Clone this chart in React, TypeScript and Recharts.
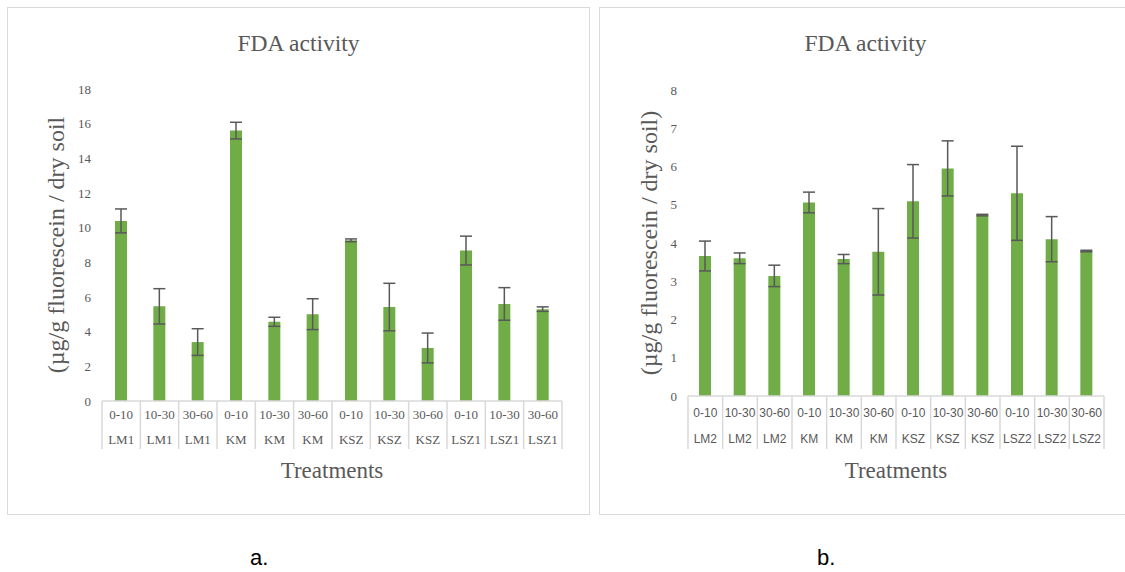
import React from "react";
import { BarChart, Bar, XAxis, YAxis, ErrorBar } from "recharts";

const depths = ["0-10", "10-30", "30-60", "0-10", "10-30", "30-60", "0-10", "10-30", "30-60", "0-10", "10-30", "30-60"];
const sitesA = ["LM1", "LM1", "LM1", "KM", "KM", "KM", "KSZ", "KSZ", "KSZ", "LSZ1", "LSZ1", "LSZ1"];
const sitesB = ["LM2", "LM2", "LM2", "KM", "KM", "KM", "KSZ", "KSZ", "KSZ", "LSZ2", "LSZ2", "LSZ2"];

const valuesA = [10.39, 5.46, 3.4, 15.6, 4.57, 5.01, 9.27, 5.42, 3.06, 8.68, 5.6, 5.3];
const errorsA = [0.69, 1.02, 0.77, 0.48, 0.26, 0.89, 0.08, 1.37, 0.86, 0.83, 0.94, 0.13];

const valuesB = [3.66, 3.6, 3.14, 5.06, 3.58, 3.77, 5.09, 5.95, 4.73, 5.3, 4.1, 3.79];
const errorsB = [0.39, 0.14, 0.28, 0.27, 0.12, 1.13, 0.96, 0.72, 0.02, 1.23, 0.59, 0.02];

const ticksA = [0, 2, 4, 6, 8, 10, 12, 14, 16, 18];
const ticksB = [0, 1, 2, 3, 4, 5, 6, 7, 8];

const SERIF = "'Liberation Serif', 'Times New Roman', serif";
const SANS = "'Liberation Sans', Arial, sans-serif";
const TEXT = "#595959";
const GRID = "#d9d9d9";
const GREEN = "#70ad47";

const makeData = (values: number[], errors: number[], sites: string[]) =>
  values.map((v, i) => ({ name: depths[i] + " " + sites[i], value: v, err: errors[i] }));

const dataA = makeData(valuesA, errorsA, sitesA);
const dataB = makeData(valuesB, errorsB, sitesB);

// two-row category labels with box separators, like Excel
const makeTick = (sites: string[], band: number, font: string, size: number, row1: number, row2: number, lineLen: number) =>
  (props: any) => {
    const { x, y, index } = props;
    const left = x - band / 2;
    const right = x + band / 2;
    return (
      <g>
        <line x1={left} y1={y} x2={left} y2={y + lineLen} stroke={GRID} strokeWidth={1.5} />
        {index === sites.length - 1 && (
          <line x1={right} y1={y} x2={right} y2={y + lineLen} stroke={GRID} strokeWidth={1.5} />
        )}
        <text x={x} y={y + row1} textAnchor="middle" dominantBaseline="middle" fontFamily={font} fontSize={size} fill={TEXT}>
          {depths[index]}
        </text>
        <text x={x} y={y + row2} textAnchor="middle" dominantBaseline="middle" fontFamily={font} fontSize={size} fill={TEXT}>
          {sites[index]}
        </text>
      </g>
    );
  };

const titleStyle: React.CSSProperties = {
  position: "absolute",
  top: 24,
  left: 0,
  width: "100%",
  textAlign: "center",
  fontFamily: SERIF,
  fontSize: 23.5,
  lineHeight: "23px",
  color: TEXT,
};

const App: React.FC = () => {
  return (
    <div style={{ position: "absolute", left: 0, top: 0, width: 1125, height: 572, overflow: "hidden", background: "#fff" }}>
      {/* panel a */}
      <div style={{ position: "absolute", left: 7, top: 7, width: 581, height: 506, border: `1.5px solid ${GRID}` }}>
        <div style={titleStyle}>FDA activity</div>
        <div style={{ position: "absolute", left: 0, top: 0 }}>
          <BarChart width={583} height={508} data={dataA} margin={{ top: 81, right: 29, left: 14, bottom: 25 }}>
            <YAxis
              width={80}
              domain={[0, 18]}
              ticks={ticksA}
              axisLine={false}
              tickLine={false}
              tickSize={0}
              tickMargin={11}
              tick={{ fontFamily: SERIF, fontSize: 13, fill: TEXT }}
              label={{
                value: "(µg/g fluorescein / dry soil",
                angle: -90,
                position: "insideLeft",
                offset: 33,
                style: { textAnchor: "middle", fontFamily: SERIF, fontSize: 24, fill: TEXT },
              }}
            />
            <XAxis
              dataKey="name"
              height={90}
              interval={0}
              axisLine={{ stroke: GRID, strokeWidth: 1.5 }}
              tickLine={false}
              tickSize={0}
              tickMargin={0}
              tick={makeTick(sitesA, 460 / 12, SERIF, 13, 15, 40, 48)}
              label={{
                value: "Treatments",
                position: "insideTop",
                offset: 61,
                style: { fontFamily: SERIF, fontSize: 23, fill: TEXT },
              }}
            />
            <Bar dataKey="value" fill={GREEN} barSize={12} isAnimationActive={false}>
              <ErrorBar dataKey="err" width={6} stroke={TEXT} strokeWidth={1.5} />
            </Bar>
          </BarChart>
        </div>
      </div>

      {/* panel b */}
      <div style={{ position: "absolute", left: 599, top: 7, width: 531, height: 506, border: `1.5px solid ${GRID}` }}>
        <div style={titleStyle}>FDA activity</div>
        <div style={{ position: "absolute", left: 0, top: 0 }}>
          <BarChart width={533} height={508} data={dataB} margin={{ top: 82, right: 29, left: 28, bottom: 30 }}>
            <YAxis
              width={60}
              domain={[0, 8]}
              ticks={ticksB}
              axisLine={false}
              tickLine={false}
              tickSize={0}
              tickMargin={11}
              tick={{ fontFamily: SERIF, fontSize: 13, fill: TEXT }}
              label={{
                value: "(µg/g fluorescein / dry soil)",
                angle: -90,
                position: "insideLeft",
                offset: 20,
                style: { textAnchor: "middle", fontFamily: SERIF, fontSize: 24, fill: TEXT },
              }}
            />
            <XAxis
              dataKey="name"
              height={90}
              interval={0}
              axisLine={{ stroke: GRID, strokeWidth: 1.5 }}
              tickLine={false}
              tickSize={0}
              tickMargin={0}
              tick={makeTick(sitesB, 416 / 12, SANS, 12, 18, 44, 53)}
              label={{
                value: "Treatments",
                position: "insideTop",
                offset: 66,
                style: { fontFamily: SERIF, fontSize: 23, fill: TEXT },
              }}
            />
            <Bar dataKey="value" fill={GREEN} barSize={12} isAnimationActive={false}>
              <ErrorBar dataKey="err" width={6} stroke={TEXT} strokeWidth={1.5} />
            </Bar>
          </BarChart>
        </div>
      </div>

      <div style={{ position: "absolute", left: 250, top: 545, fontFamily: SANS, fontSize: 22, color: "#000" }}>a.</div>
      <div style={{ position: "absolute", left: 817, top: 545, fontFamily: SANS, fontSize: 22, color: "#000" }}>b.</div>
    </div>
  );
};

export default App;
